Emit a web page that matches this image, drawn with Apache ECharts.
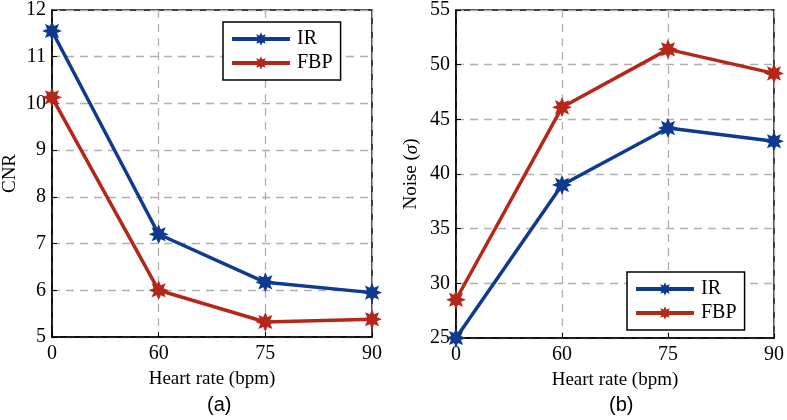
<!DOCTYPE html>
<html><head><meta charset="utf-8">
<script src="https://cdn.jsdelivr.net/npm/echarts@6/dist/echarts.min.js"></script>
<style>html,body{margin:0;padding:0;background:#fff}#c{width:787px;height:420px}</style>
</head><body><div id="c"></div>
<script>
const categories = ['0', '60', '75', '90'];
const cnrIR = [11.55, 7.2, 6.17, 5.95];
const cnrFBP = [10.13, 6.0, 5.32, 5.38];
const noiseIR = [25.0, 39.0, 44.2, 43.0];
const noiseFBP = [28.5, 46.1, 51.4, 49.2];
const seriesNames = ['IR', 'FBP'];

const BLUE = '#0e3b8e', RED = '#b3281a';
const FONT = 'Liberation Serif';

// asterisk-like star symbol
function starPath(n, rOut, rIn) {
  let pts = [];
  for (let i = 0; i < 2 * n; i++) {
    const a = Math.PI * i / n - Math.PI / 2;
    const r = i % 2 === 0 ? rOut : rIn;
    pts.push((50 + r * Math.cos(a)).toFixed(2) + ',' + (50 + r * Math.sin(a)).toFixed(2));
  }
  return 'path://M' + pts.join('L') + 'Z';
}
const STAR = starPath(8, 50, 27);

const chart = echarts.init(document.getElementById('c'), null, {renderer: 'canvas'});

function xAxis(idx) {
  return {
    type: 'category', gridIndex: idx, data: categories, boundaryGap: false,
    name: 'Heart rate (bpm)', nameLocation: 'middle', nameGap: 33,
    nameTextStyle: {fontFamily: FONT, fontSize: 19, color: '#000'},
    axisLine: {lineStyle: {color: '#000', width: 1.5}},
    axisTick: {inside: true, length: 5, lineStyle: {color: '#000'}},
    axisLabel: {fontFamily: FONT, fontSize: 20, color: '#000', margin: 7, showMaxLabel: true, showMinLabel: true},
    splitLine: {show: true, lineStyle: {color: '#b0b0b0', type: [8, 6], width: 1.3}}
  };
}
function yAxis(idx, min, max, interval, name) {
  return {
    type: 'value', gridIndex: idx, min: min, max: max, interval: interval,
    name: name, nameLocation: 'middle', nameGap: idx === 0 ? 32 : 35,
    nameTextStyle: {fontFamily: FONT, fontSize: 19, color: '#000',
      rich: {i: {fontFamily: FONT, fontStyle: 'italic', fontSize: 19, color: '#000'}}},
    axisLine: {show: true, lineStyle: {color: '#000', width: 1.5}},
    axisTick: {show: true, inside: true, length: 5, lineStyle: {color: '#000'}},
    axisLabel: {fontFamily: FONT, fontSize: 20, color: '#000', margin: 6},
    splitLine: {show: true, lineStyle: {color: '#b0b0b0', type: [8, 6], width: 1.3}}
  };
}
function ser(name, data, color, idx) {
  return {
    name: name, type: 'line', data: data, xAxisIndex: idx, yAxisIndex: idx,
    symbol: STAR, symbolSize: 20, showAllSymbol: true, clip: false,
    lineStyle: {color: color, width: 3.5}, itemStyle: {color: color},
    emphasis: {disabled: true}, z: 5
  };
}
function legend(left, top) {
  return {
    data: seriesNames, orient: 'vertical', left: left, top: top,
    padding: [7, 8, 7, 7], itemWidth: 58, itemHeight: 17, itemGap: 4,
    backgroundColor: '#fff', borderColor: '#000', borderWidth: 1.5,
    lineStyle: {width: 4},
    textStyle: {fontFamily: FONT, fontSize: 20, color: '#000', padding: [0, 0, 0, 2]},
    selectedMode: false
  };
}

chart.setOption({
  animation: false,
  backgroundColor: '#fff',
  grid: [
    {left: 52, top: 7, width: 320, height: 330, show: true, borderColor: '#000', borderWidth: 1.5, backgroundColor: 'transparent'},
    {left: 456, top: 8, width: 320, height: 330, show: true, borderColor: '#000', borderWidth: 1.5, backgroundColor: 'transparent'}
  ],
  xAxis: [xAxis(0), xAxis(1)],
  yAxis: [yAxis(0, 5, 12, 1, 'CNR'), yAxis(1, 25, 55, 5, 'Noise ({i|σ})')],
  legend: [legend(223, 22), legend(627, 272)],
  title: [
    {text: '(a)', left: 207, top: 395, textStyle: {fontFamily: 'Liberation Sans', fontWeight: 'normal', fontSize: 20, color: '#000'}, padding: 0},
    {text: '(b)', left: 609, top: 395, textStyle: {fontFamily: 'Liberation Sans', fontWeight: 'normal', fontSize: 20, color: '#000'}, padding: 0}
  ],
  series: [
    ser('IR', cnrIR, BLUE, 0), ser('FBP', cnrFBP, RED, 0),
    ser('IR', noiseIR, BLUE, 1), ser('FBP', noiseFBP, RED, 1)
  ]
});
</script></body></html>
